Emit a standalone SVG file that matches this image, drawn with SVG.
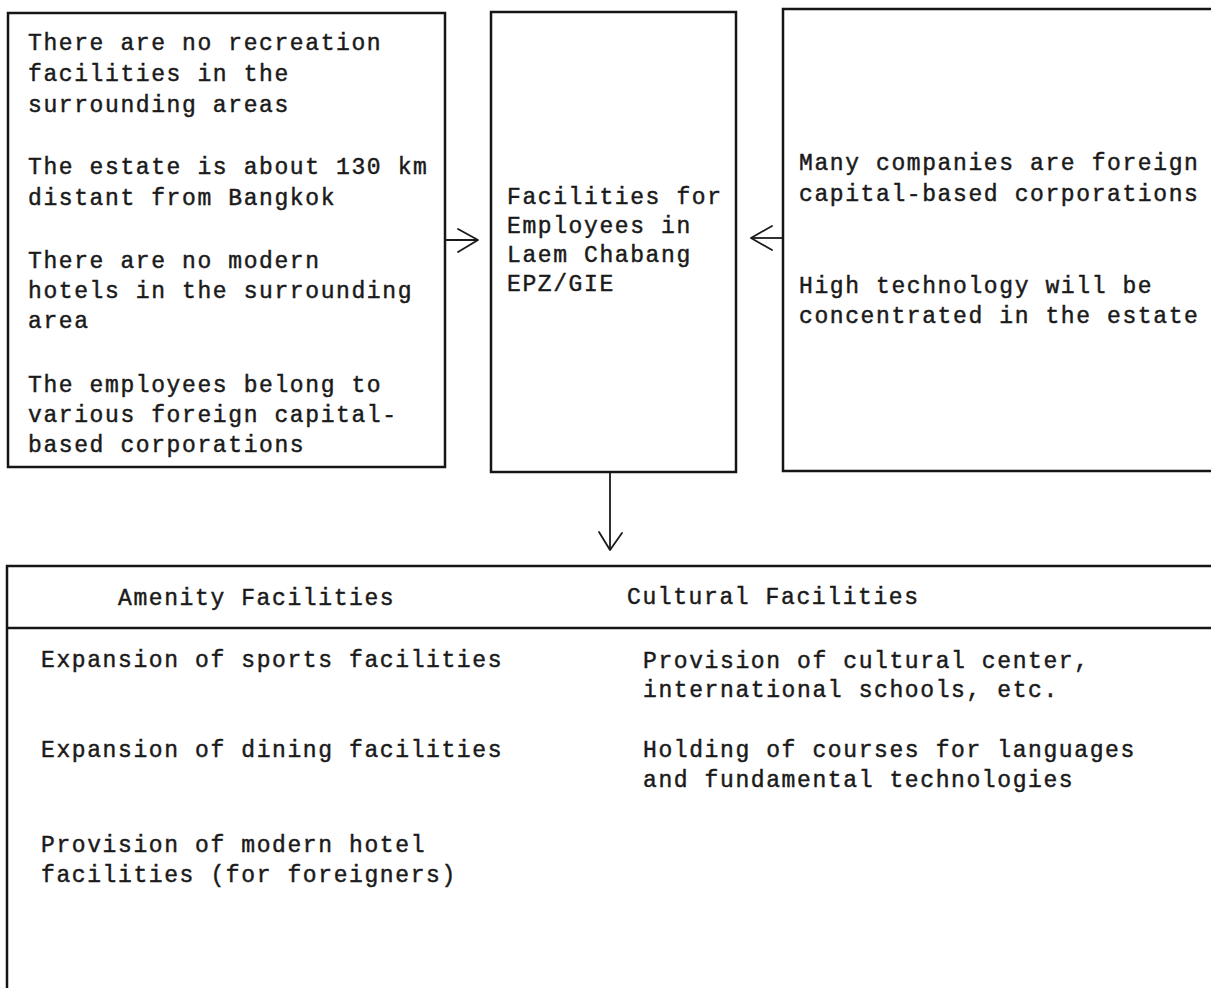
<svg xmlns="http://www.w3.org/2000/svg" width="1211" height="997" viewBox="0 0 1211 997">
  <style>
    .box { fill: none; stroke: #151515; stroke-width: 2.5; }
    .rule { stroke: #151515; stroke-width: 2.5; fill: none; }
    .link { stroke: #1a1a1a; stroke-width: 1.8; fill: none; }
    .head { stroke: #1a1a1a; stroke-width: 1.8; fill: none; stroke-linecap: round; stroke-linejoin: round; }
    text { font-family: "Liberation Mono", "DejaVu Sans Mono", monospace; font-size: 23px; letter-spacing: 1.6px; fill: #1a1a1a; stroke: #1a1a1a; stroke-width: 0.45px; }
  </style>
  <rect width="1211" height="997" fill="#ffffff"/>

  <!-- background conditions -->
  <g id="node-conditions">
    <rect class="box" x="8" y="13" width="437" height="454"/>
    <text x="28" y="50">There are no recreation</text>
    <text x="28" y="81">facilities in the</text>
    <text x="28" y="112">surrounding areas</text>
    <text x="28" y="174">The estate is about 130 km</text>
    <text x="28" y="205">distant from Bangkok</text>
    <text x="28" y="268">There are no modern</text>
    <text x="28" y="298">hotels in the surrounding</text>
    <text x="28" y="328">area</text>
    <text x="28" y="392">The employees belong to</text>
    <text x="28" y="422">various foreign capital-</text>
    <text x="28" y="452">based corporations</text>
  </g>

  <!-- central subject -->
  <g id="node-facilities">
    <rect class="box" x="491" y="12" width="245" height="460"/>
    <text x="507" y="204">Facilities for</text>
    <text x="507" y="233">Employees in</text>
    <text x="507" y="262">Laem Chabang</text>
    <text x="507" y="291">EPZ/GIE</text>
  </g>

  <!-- company characteristics (box runs off the right edge) -->
  <g id="node-companies">
    <path class="box" d="M1215 9 H783 V471 H1215"/>
    <text x="799" y="170">Many companies are foreign</text>
    <text x="799" y="201">capital-based corporations</text>
    <text x="799" y="293">High technology will be</text>
    <text x="799" y="323">concentrated in the estate</text>
  </g>

  <!-- resulting measures table -->
  <g id="node-measures">
    <path class="box" d="M1215 566 H7 V988"/>
    <line class="rule" x1="7" y1="628" x2="1215" y2="628"/>
    <text x="118" y="605">Amenity Facilities</text>
    <text x="627" y="604">Cultural Facilities</text>
    <text x="41" y="667">Expansion of sports facilities</text>
    <text x="41" y="757">Expansion of dining facilities</text>
    <text x="41" y="852">Provision of modern hotel</text>
    <text x="41" y="882">facilities (for foreigners)</text>
    <text x="643" y="668">Provision of cultural center,</text>
    <text x="643" y="697">international schools, etc.</text>
    <text x="643" y="757">Holding of courses for languages</text>
    <text x="643" y="787">and fundamental technologies</text>
  </g>

  <!-- connectors -->
  <g id="connectors">
    <line class="link" x1="445" y1="240" x2="478" y2="240"/>
    <polyline class="head" points="458,229 478,240 458,252"/>
    <line class="link" x1="783" y1="238" x2="751" y2="238"/>
    <polyline class="head" points="772,226 751,238 772,250"/>
    <line class="link" x1="610" y1="472" x2="610" y2="550"/>
    <polyline class="head" points="599,532 610,550 622,533"/>
  </g>
</svg>
